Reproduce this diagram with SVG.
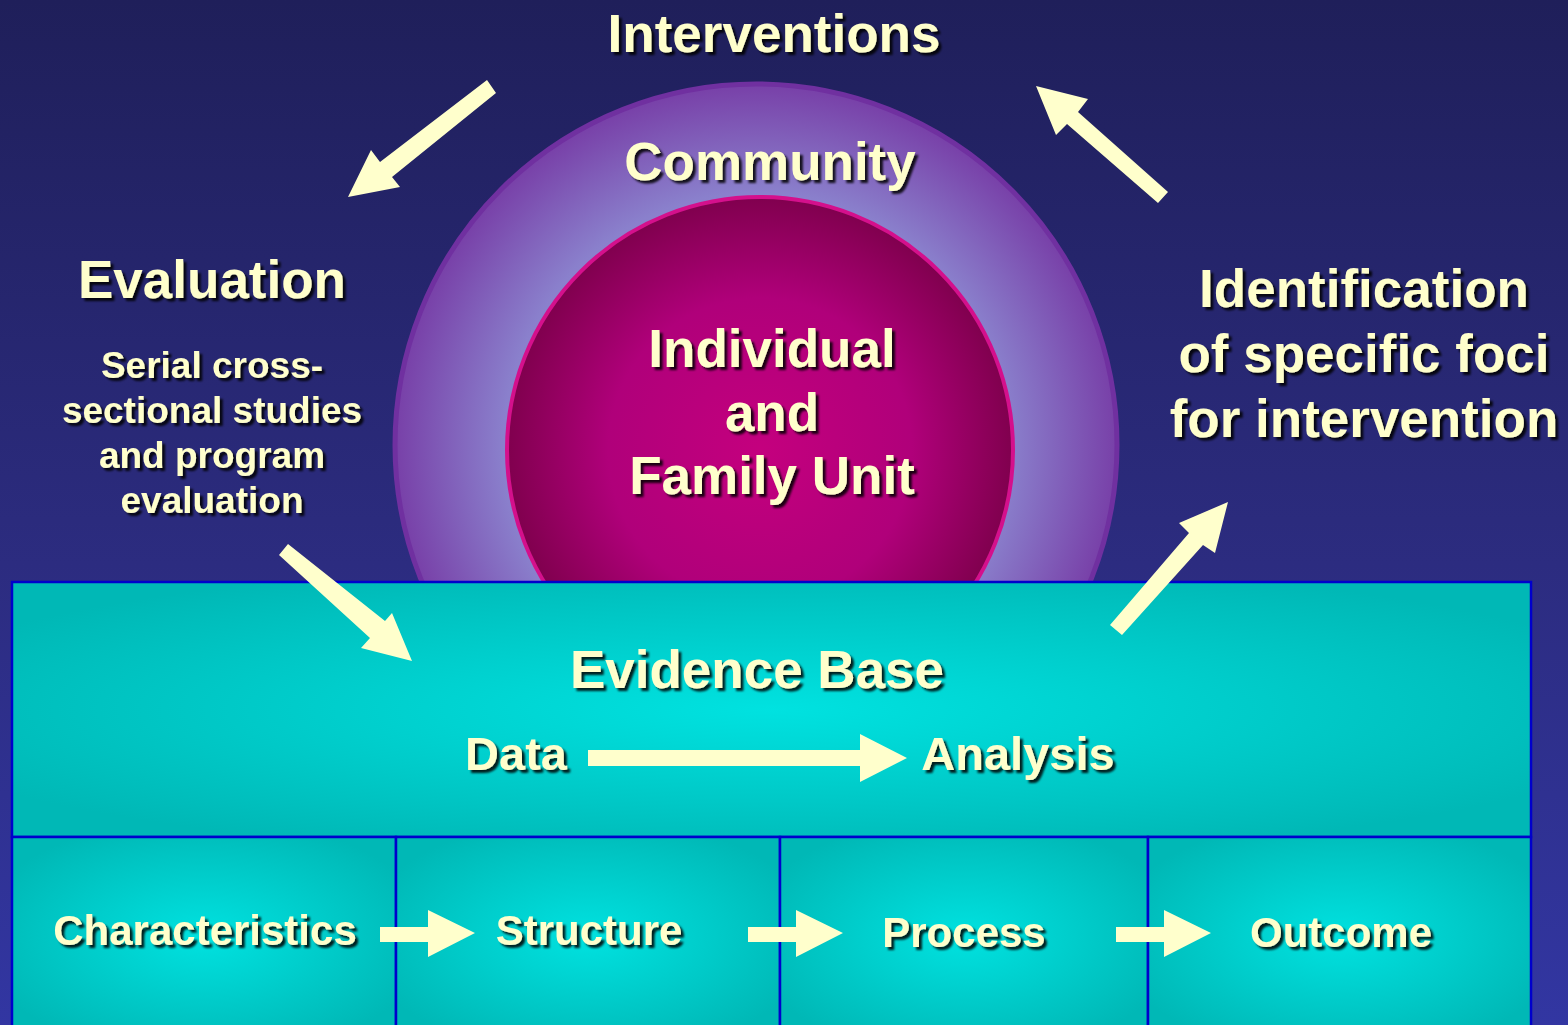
<svg xmlns="http://www.w3.org/2000/svg" width="1568" height="1025" viewBox="0 0 1568 1025">
  <defs>
    <linearGradient id="bg" x1="0" y1="0" x2="0" y2="1">
      <stop offset="0" stop-color="#1f1f5a"/>
      <stop offset="0.55" stop-color="#2c2c80"/>
      <stop offset="1" stop-color="#3236a2"/>
    </linearGradient>
    <radialGradient id="outerFill" cx="0.5" cy="0.5" r="0.5">
      <stop offset="0" stop-color="#b4b4e4"/>
      <stop offset="0.7" stop-color="#8a80cc"/>
      <stop offset="1" stop-color="#7840a8"/>
    </radialGradient>
    <radialGradient id="innerFill" cx="0.5" cy="0.5" r="0.5">
      <stop offset="0" stop-color="#c4007e"/>
      <stop offset="0.6" stop-color="#b0007a"/>
      <stop offset="1" stop-color="#80004e"/>
    </radialGradient>
    <radialGradient id="cellFill" cx="0.5" cy="0.5" r="0.6">
      <stop offset="0" stop-color="#00e2e0"/>
      <stop offset="1" stop-color="#00b8b6"/>
    </radialGradient>
    <filter id="shadow" x="-10%" y="-20%" width="130%" height="160%">
      <feDropShadow dx="3" dy="3" stdDeviation="1.2" flood-color="#000000" flood-opacity="0.85"/>
    </filter>
  </defs>
  <style>
    .t { font-family: "Liberation Sans", Arial, sans-serif; font-weight: bold; fill: #ffffcc; text-anchor: middle; filter: url(#shadow); }
    .big { font-size: 53px; }
    .mid { font-size: 47px; }
    .cell { font-size: 42px; }
    .small { font-size: 37px; }
    .arrow { fill: #ffffcc; }
    .box { fill: url(#cellFill); stroke: #0000cc; stroke-width: 2.5; }
  </style>

  <!-- backdrop -->
  <rect width="1568" height="1025" fill="url(#bg)"/>

  <!-- nested circles -->
  <g id="community">
    <circle cx="756" cy="445" r="361" fill="url(#outerFill)" stroke="#7030a0" stroke-width="5"/>
    <text class="t big" x="770" y="180">Community</text>
  </g>
  <g id="individual">
    <circle cx="760" cy="450" r="253" fill="url(#innerFill)" stroke="#d4108c" stroke-width="4"/>
    <text class="t big" x="772" y="367">Individual</text>
    <text class="t big" x="772" y="431">and</text>
    <text class="t big" x="772" y="494">Family Unit</text>
  </g>

  <!-- evidence base panel -->
  <g id="evidence-base">
    <rect class="box" x="12" y="582" width="1519" height="255"/>
    <text class="t big" x="757" y="688">Evidence Base</text>
    <text class="t mid" x="516" y="770">Data</text>
    <text class="t mid" x="1018" y="770">Analysis</text>
  </g>

  <g id="characteristics">
    <rect class="box" x="12" y="837" width="384" height="200"/>
    <text class="t cell" x="205" y="945">Characteristics</text>
  </g>
  <g id="structure">
    <rect class="box" x="396" y="837" width="384" height="200"/>
    <text class="t cell" x="589" y="945">Structure</text>
  </g>
  <g id="process">
    <rect class="box" x="780" y="837" width="368" height="200"/>
    <text class="t cell" x="964" y="947">Process</text>
  </g>
  <g id="outcome">
    <rect class="box" x="1148" y="837" width="383" height="200"/>
    <text class="t cell" x="1341" y="947">Outcome</text>
  </g>

  <!-- cycle labels -->
  <g id="interventions">
    <text class="t big" x="774" y="52">Interventions</text>
  </g>
  <g id="evaluation">
    <text class="t big" x="212" y="298">Evaluation</text>
    <text class="t small" x="212" y="378">Serial cross-</text>
    <text class="t small" x="212" y="423">sectional studies</text>
    <text class="t small" x="212" y="468">and program</text>
    <text class="t small" x="212" y="513">evaluation</text>
  </g>
  <g id="identification">
    <text class="t big" x="1364" y="307">Identification</text>
    <text class="t big" x="1364" y="372">of specific foci</text>
    <text class="t big" x="1364" y="437">for intervention</text>
  </g>

  <!-- connectors -->
  <g id="connectors">
    <!-- Interventions to Evaluation -->
    <polygon class="arrow" points="487,80 496,93 392,177 400,187 348,197 371,150 380,162"/>
    <!-- Identification to Interventions -->
    <polygon class="arrow" points="1168,192 1158,203 1067,124 1056,135 1036,86 1088,99 1078,112"/>
    <!-- Evaluation to Evidence Base -->
    <polygon class="arrow" points="288,544 279,555 370,638 361,648 412,661 392,613 385,621"/>
    <!-- Evidence Base to Identification -->
    <polygon class="arrow" points="1110,625 1122,635 1203,545 1215,553 1228,502 1179,523 1189,533"/>
    <!-- Data to Analysis -->
    <polygon class="arrow" points="588,750 860,750 860,734 907,758 860,782 860,766 588,766"/>
    <!-- chain along the bottom row -->
    <polygon class="arrow" points="380,927 428,927 428,910 475,933 428,957 428,942 380,942"/>
    <polygon class="arrow" points="748,927 796,927 796,910 843,933 796,957 796,942 748,942"/>
    <polygon class="arrow" points="1116,927 1164,927 1164,910 1211,933 1164,957 1164,942 1116,942"/>
  </g>
</svg>
